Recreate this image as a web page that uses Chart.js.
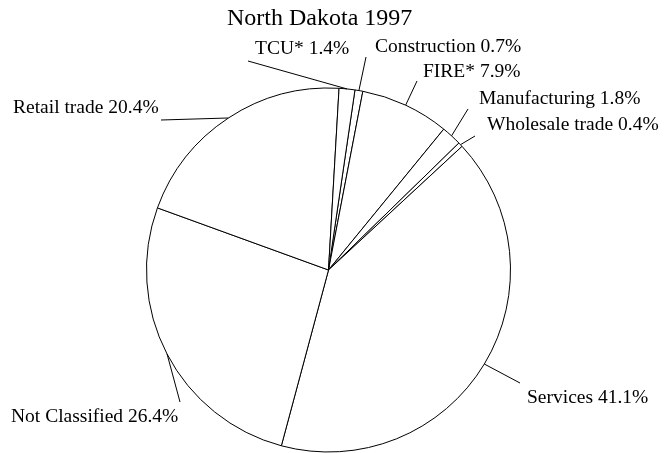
<!DOCTYPE html>
<html>
<head>
<meta charset="utf-8">
<script src="https://cdn.jsdelivr.net/npm/chart.js@4"></script>
<style>
html,body{margin:0;padding:0;background:#fff;}
#c{display:block;}
</style>
</head>
<body>
<canvas id="c" width="668" height="453"></canvas>
<script>
const chartTitle = 'North Dakota 1997';
const categories = ['Construction', 'FIRE*', 'Manufacturing', 'Wholesale trade', 'Services', 'Not Classified', 'Retail trade', 'TCU*'];
const shares = [0.7, 7.9, 1.8, 0.4, 41.1, 26.4, 20.4, 1.4];

// label placement (annotation styling): text left/baseline and leader end point
const labelPlacement = [
  {tx: 375, ty: 51.5, lx: 366, ly: 57},
  {tx: 423, ty: 77, lx: 417, ly: 81},
  {tx: 479, ty: 104, lx: 468, ly: 109},
  {tx: 487, ty: 130, lx: 475, ly: 136},
  {tx: 527, ty: 403, lx: 520, ly: 383},
  {tx: 11, ty: 422, lx: 180, ly: 402},
  {tx: 13, ty: 113, lx: 161, ly: 120},
  {tx: 255, ty: 54, lx: 248, ly: 61}
];

const FONT = '"Liberation Serif", "Times New Roman", Times, serif';

const labelPlugin = {
  id: 'pieLabels',
  afterDraw(chart) {
    const ctx = chart.ctx;
    const meta = chart.getDatasetMeta(0);
    ctx.save();
    ctx.fillStyle = '#000';
    ctx.textBaseline = 'alphabetic';
    ctx.textAlign = 'left';
    ctx.font = '24px ' + FONT;
    ctx.fillText(chartTitle, 227, 25);
    ctx.font = '19.5px ' + FONT;
    ctx.strokeStyle = '#000';
    ctx.lineWidth = 1;
    meta.data.forEach((arc, i) => {
      const p = arc.getProps(['x', 'y', 'startAngle', 'endAngle', 'outerRadius'], true);
      const mid = (p.startAngle + p.endAngle) / 2;
      const ax = p.x + Math.cos(mid) * p.outerRadius;
      const ay = p.y + Math.sin(mid) * p.outerRadius;
      const pl = labelPlacement[i];
      ctx.beginPath();
      ctx.moveTo(ax, ay);
      ctx.lineTo(pl.lx, pl.ly);
      ctx.stroke();
      ctx.fillText(categories[i] + ' ' + shares[i].toFixed(1) + '%', pl.tx, pl.ty);
    });
    ctx.restore();
  }
};

new Chart(document.getElementById('c'), {
  type: 'pie',
  data: {
    labels: categories,
    datasets: [{
      data: shares,
      backgroundColor: '#ffffff',
      borderColor: '#000000',
      borderWidth: 1
    }]
  },
  options: {
    responsive: false,
    devicePixelRatio: 1,
    animation: false,
    rotation: 8.36,
    layout: {padding: {top: 87, bottom: 0, left: 146, right: 157}},
    plugins: {
      legend: {display: false},
      tooltip: {enabled: false},
      title: {display: false}
    }
  },
  plugins: [labelPlugin]
});
</script>
</body>
</html>
